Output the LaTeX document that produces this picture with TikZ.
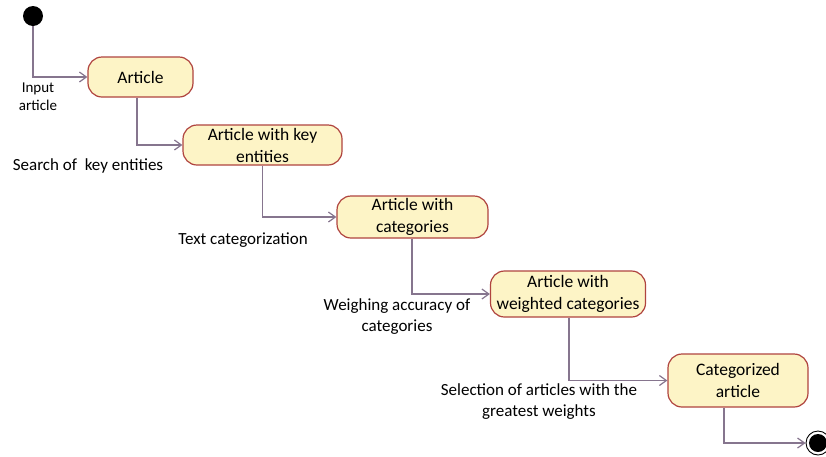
\documentclass[tikz,border=0pt]{standalone}
\usepackage{fontspec}
\setmainfont{Carlito}
\usetikzlibrary{arrows.meta}
\definecolor{statefill}{HTML}{FDF4C6}
\definecolor{stateedge}{HTML}{B0443F}
\definecolor{flowline}{HTML}{86758E}
\tikzset{
  state/.style={draw=stateedge, fill=statefill, rounded corners=14pt, line width=1.2pt,
    align=center, font=\fontsize{17.5}{22}\selectfont, inner sep=0pt},
  flow/.style={draw=flowline, line width=1.4pt, -{Straight Barb[length=7pt,width=10pt,line width=1.2pt]}},
  lbl/.style={align=center, font=\fontsize{17}{21}\selectfont, inner sep=0pt},
}
\begin{document}
\begin{tikzpicture}[x=1pt,y=-1pt]
\useasboundingbox (0,0) rectangle (826,456);
\fill[white] (0,0) rectangle (826,456);

% initial state
\node[circle, fill=black, minimum size=20pt, inner sep=0pt] (init) at (33,16) {};

% activity states
\node[state, minimum width=105pt, minimum height=40pt] (s1) at (140.5,77) {Article};
\node[state, minimum width=159pt, minimum height=40pt] (s2) at (262.5,145) {Article with key\\entities};
\node[state, minimum width=151pt, minimum height=42pt] (s3) at (412.5,217) {Article with\\categories};
\node[state, minimum width=155pt, minimum height=46pt] (s4) at (568,294) {Article with\\weighted categories};
\node[state, minimum width=140pt, minimum height=53pt] (s5) at (738,380.5) {Categorized\\article};

% final state
\node[circle, draw=black, line width=0.9pt, fill=white, minimum size=24pt, inner sep=0pt] (final) at (818,443) {};
\fill[black] (final.center) circle (9pt);

% transitions
\draw[flow] (init.south) |- (s1.west);
\draw[flow] (s1.south -| 137,0) |- (s2.west);
\draw[flow] (s2.south) |- (s3.west);
\draw[flow] (s3.south -| 412,0) |- (s4.west);
\draw[flow] (s4.south -| 569,0) |- (s5.west);
\draw[flow] (s5.south -| 724,0) |- (final.west);

% transition labels
\node[lbl, font=\fontsize{15}{18}\selectfont] (l1) at (38,97) {Input\\article};
\node[lbl] (l2) at (88,166) {Search of\ \ key entities};
\node[lbl] (l3) at (243,240) {Text categorization};
\node[lbl] (l4) at (397,317) {Weighing accuracy of\\categories};
\node[lbl] (l5) at (539,402) {Selection of articles with the\\greatest weights};
\end{tikzpicture}
\end{document}
